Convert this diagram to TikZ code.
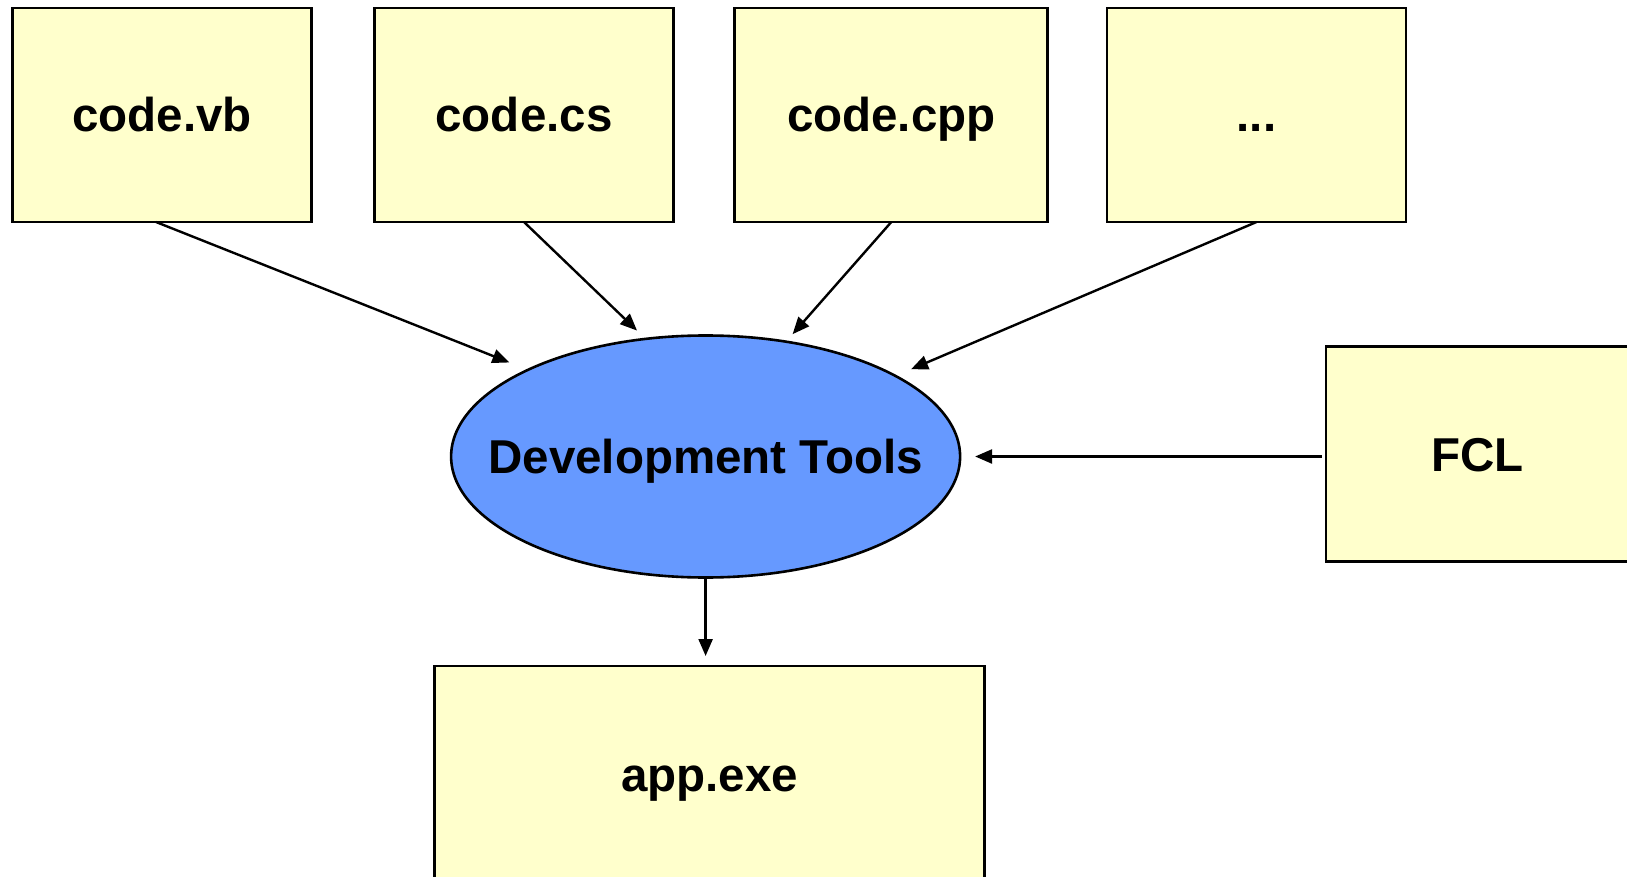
\documentclass[tikz,border=0pt]{standalone}
\usepackage{fontspec}
\setmainfont{Liberation Sans}
\usetikzlibrary{shapes.geometric,arrows.meta}

\definecolor{notefill}{HTML}{FFFFCC}
\definecolor{toolfill}{HTML}{6699FF}

\begin{document}
\begin{tikzpicture}[x=1pt,y=-1pt,
  label font/.style={font=\fontsize{47.5}{50}\selectfont\bfseries,
    text height=34pt,text depth=0pt},
  filebox/.style={draw=black,line width=2.8pt,fill=notefill,rectangle,
    inner sep=0pt,outer sep=0pt,label font},
  toolnode/.style={draw=black,line width=2.6pt,fill=toolfill,ellipse,
    inner sep=0pt,outer sep=0pt,minimum width=509pt,minimum height=242pt,
    label font},
  flow/.style={draw=black,line width=2.4pt,-{Triangle[length=17pt,width=14pt]}}]

  \useasboundingbox (0,0) rectangle (1627,877);

  % source files
  \node[filebox,minimum width=299pt,minimum height=214pt] (vb)  at (162,115)    {code.vb};
  \node[filebox,minimum width=299pt,minimum height=214pt] (cs)  at (524,115)    {code.cs};
  \node[filebox,minimum width=313pt,minimum height=214pt] (cpp) at (891.3,115)  {code.cpp};
  \node[filebox,minimum width=299pt,minimum height=214pt] (etc) at (1256.5,115) {...};

  % compiler toolchain (label kept zero-width so the ellipse keeps its size)
  \node[toolnode] (dev) at (705.6,456.5) {\makebox[0pt]{Development Tools}};

  % class library
  \node[filebox,minimum width=303pt,minimum height=215pt] (fcl) at (1477.5,454) {FCL};

  % output
  \node[filebox,minimum width=550pt,minimum height=216pt] (app) at (709.7,774) {app.exe};

  % inputs into the toolchain
  \draw[flow,shorten >=20pt] ([xshift=-6pt]vb.south) -- (dev.154);
  \draw[flow,shorten >=12pt] (cs.south)  -- (dev.117.4);
  \draw[flow,shorten >=10pt] (cpp.south) -- (dev.55.1);
  \draw[flow,shorten >=17pt] (etc.south) -- (dev.23.1);
  \draw[flow,shorten <=4pt,shorten >=15pt] (fcl.west |- dev.east) -- (dev.east);

  % build result
  \draw[flow,shorten >=10pt] (dev.south) -- (dev.south |- app.north);
\end{tikzpicture}
\end{document}
